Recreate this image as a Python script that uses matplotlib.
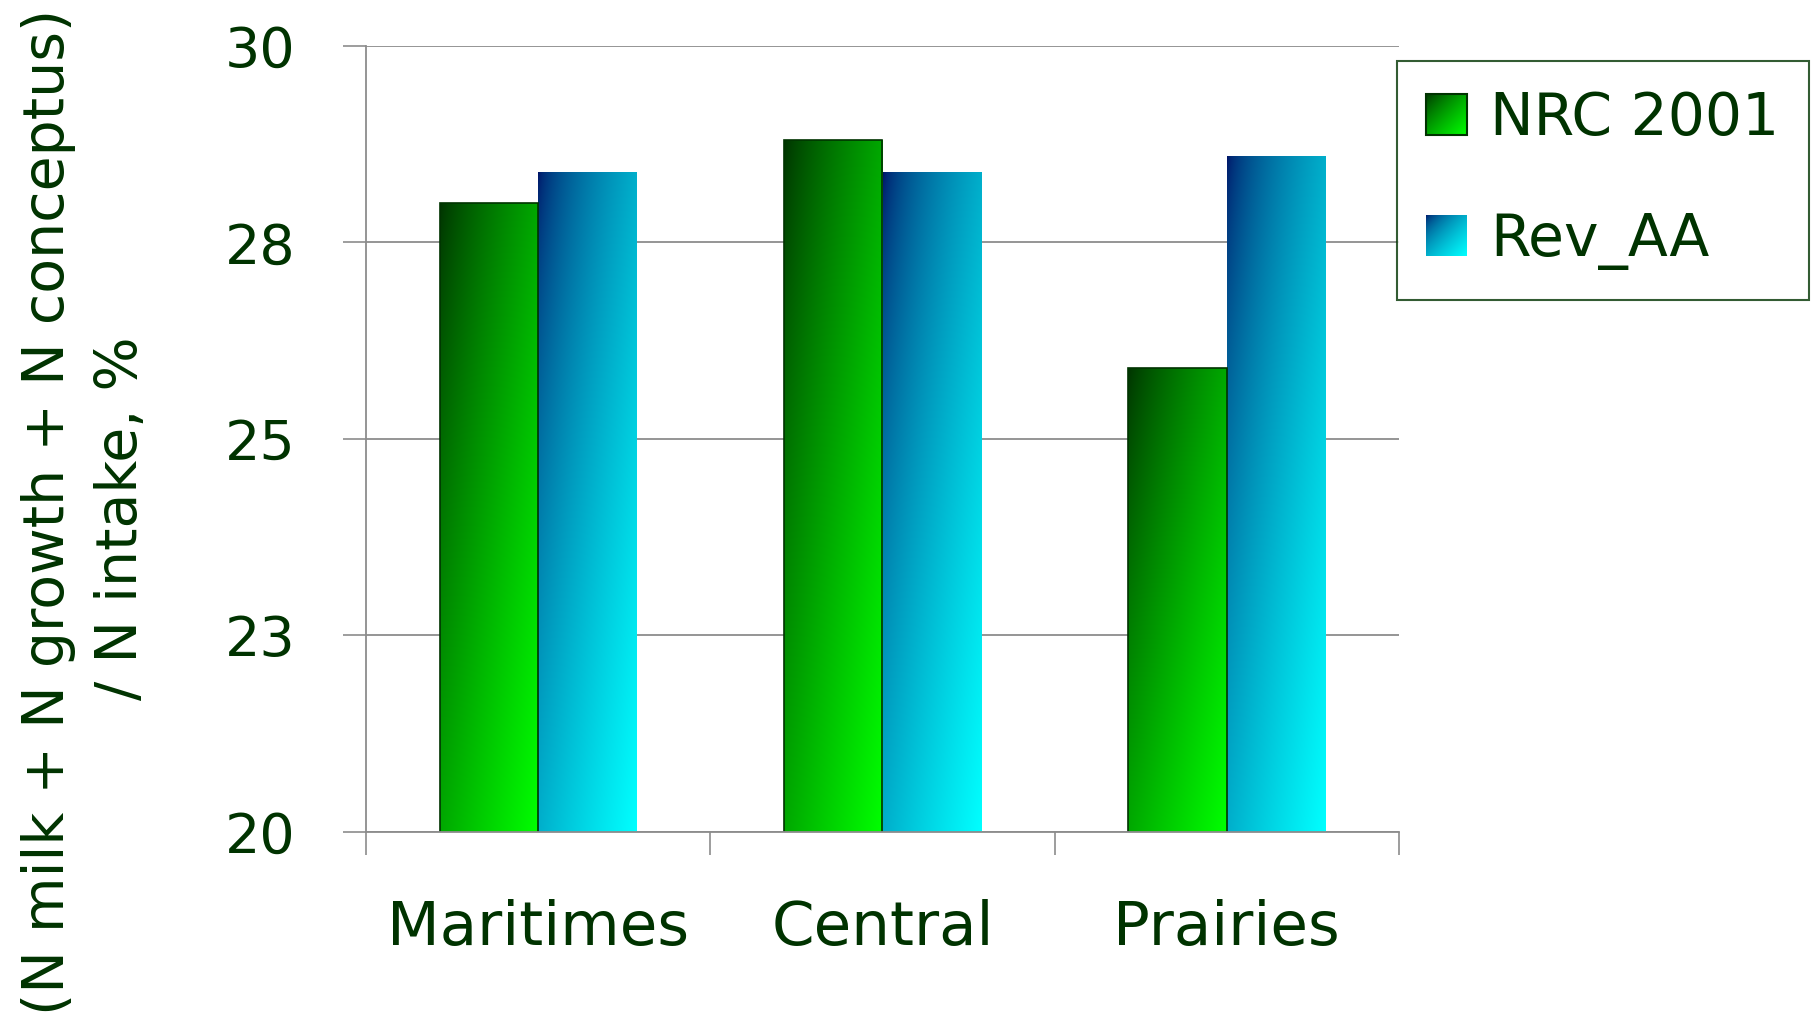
import numpy as np
import matplotlib
matplotlib.use("Agg")
import matplotlib.pyplot as plt
from matplotlib.patches import Rectangle
from matplotlib.image import BboxImage
from matplotlib.transforms import Bbox, TransformedBbox
from matplotlib.legend_handler import HandlerBase

# Data
regions = ["Maritimes", "Central", "Prairies"]
series_names = ["NRC 2001", "Rev_AA"]
nrc_2001 = [28.0, 28.8, 25.9]
rev_aa = [28.4, 28.4, 28.6]
y_ticks = [20, 22.5, 25, 27.5, 30]
y_tick_labels = ["20", "23", "25", "28", "30"]

TEXT = "#003300"
GRID = "#8c8c8c"

# gradient end colours (top-left -> bottom-right) and ramp exponent
grad_colors = {
    "NRC 2001": ((0.0, 0.20, 0.0), (0.0, 1.0, 0.0), 0.8),
    "Rev_AA": ((0.0, 0.07, 0.40), (0.0, 1.0, 1.0), 0.6),
}


def diagonal_gradient(c0, c1, gamma, n=128):
    u = np.linspace(0, 1, n)[None, :]
    v = np.linspace(0, 1, n)[:, None]
    t = ((u + v) / 2.0) ** gamma
    c0 = np.array(c0)[None, None, :]
    c1 = np.array(c1)[None, None, :]
    return c0 + t[..., None] * (c1 - c0)


fig = plt.figure(figsize=(18.16, 10.23), dpi=100)
ax = fig.add_axes([366 / 1816, 1 - 832 / 1023, (1399 - 366) / 1816, (832 - 46) / 1023])

x = np.arange(len(regions))
width = 1 / 3.5
series = [nrc_2001, rev_aa]
offsets = [-width / 2, width / 2]
edges = [TEXT, "none"]

for name, vals, off, ec in zip(series_names, series, offsets, edges):
    bars = ax.bar(x + off, vals, width=width, bottom=0, facecolor="none",
                  edgecolor=ec, linewidth=1.2, zorder=4)
    img = diagonal_gradient(*grad_colors[name])
    for b in bars:
        x0, y0 = b.get_x(), 20
        x1, y1 = x0 + b.get_width(), b.get_height()
        im = ax.imshow(img, extent=(x0, x1, y0, y1), origin="upper",
                       aspect="auto", interpolation="bilinear", zorder=3)
        im.set_clip_path(b)

ax.set_xlim(-0.5, 2.5)
ax.set_ylim(20, 30)

ax.set_yticks(y_ticks)
ax.set_yticklabels(y_tick_labels)
ax.set_xticks(x)
ax.set_xticklabels(regions)
ax.set_xticks([-0.5, 0.5, 1.5, 2.5], minor=True)

ax.tick_params(axis="x", which="major", length=0, pad=48,
               labelsize=44, labelcolor=TEXT)
ax.tick_params(axis="x", which="minor", length=16.5, width=1.2,
               color=GRID, direction="out")
ax.tick_params(axis="y", length=16.5, width=1.2, color=GRID,
               direction="out", pad=34, labelsize=40, labelcolor=TEXT)

ax.yaxis.grid(True, color=GRID, linewidth=1.3, zorder=0)
ax.set_axisbelow(True)
for side in ("top", "right"):
    ax.spines[side].set_visible(False)
for side in ("left", "bottom"):
    ax.spines[side].set_color(GRID)
    ax.spines[side].set_linewidth(1.3)
ax.spines["bottom"].set_zorder(5)

# Y-axis title, two lines
fig.text(49 / 1816, 1 - 512 / 1023, "(N milk + N growth + N conceptus)",
         rotation=90, ha="center", va="center", fontsize=41, color=TEXT)
fig.text(121 / 1816, 1 - 518 / 1023, "/ N intake, %",
         rotation=90, ha="center", va="center", fontsize=41, color=TEXT)


class GradientHandler(HandlerBase):
    def __init__(self, colors, edge):
        super().__init__()
        self.colors = colors
        self.edge = edge

    def create_artists(self, legend, orig_handle, xdescent, ydescent,
                       width, height, fontsize, trans):
        bb = Bbox.from_bounds(-xdescent, -ydescent, width, height)
        tbb = TransformedBbox(bb, trans)
        image = BboxImage(tbb, interpolation="bilinear")
        image.set_data(diagonal_gradient(*self.colors))
        artists = [image]
        if self.edge != "none":
            frame = Rectangle((-xdescent, -ydescent), width, height,
                              facecolor="none", edgecolor=self.edge,
                              linewidth=1.5, transform=trans)
            artists.append(frame)
        return artists


handles = [Rectangle((0, 0), 1, 1) for _ in series_names]
handler_map = {
    h: GradientHandler(grad_colors[n], e)
    for h, n, e in zip(handles, series_names, edges)
}
leg = fig.legend(handles, series_names, handler_map=handler_map,
                 loc="upper left", bbox_to_anchor=(1397 / 1816, 1 - 61 / 1023),
                 borderaxespad=0, fontsize=42, frameon=True, fancybox=False,
                 handlelength=0.7, handleheight=0.7, handletextpad=0.4,
                 borderpad=0.5, labelspacing=1.1)
leg.get_frame().set_edgecolor(TEXT)
leg.get_frame().set_linewidth(1.5)
for t in leg.get_texts():
    t.set_color(TEXT)

fig.savefig("out.png", dpi=100)
